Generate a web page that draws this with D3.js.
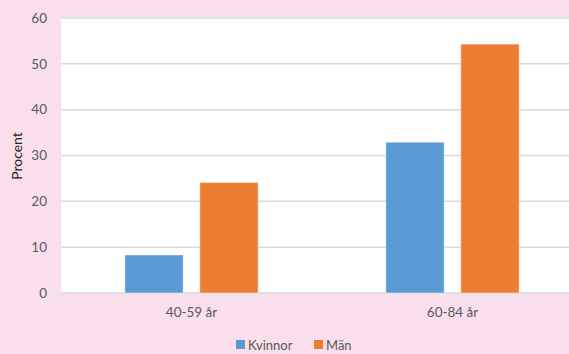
<!DOCTYPE html>
<html>
<head>
<meta charset="utf-8">
<script src="https://cdn.jsdelivr.net/npm/d3@7"></script>
<style>
  html, body { margin: 0; padding: 0; background: #f9dfec; }
  svg { display: block; }
  text { font-family: Lato, "Open Sans", sans-serif; }
</style>
</head>
<body>
<svg id="chart" width="569" height="354"></svg>
<script>
// Andel (procent) per åldersgrupp och kön
const categories = ["40-59 år", "60-84 år"];
const seriesNames = ["Kvinnor", "Män"];
const kvinnor = [8.3, 32.9];
const man = [24.1, 54.3];
const yTicks = [0, 10, 20, 30, 40, 50, 60];
const colors = ["#5b9bd5", "#ed7d31"];

const seriesValues = [kvinnor, man];

const svg = d3.select("#chart");
const plot = { left: 61, right: 583, top: 18, bottom: 293 };

// White plot area (extends past the right edge of the canvas)
svg.append("rect")
  .attr("x", plot.left).attr("y", plot.top - 1)
  .attr("width", plot.right - plot.left)
  .attr("height", plot.bottom - plot.top + 1)
  .attr("fill", "#ffffff");

const y = d3.scaleLinear().domain([0, 60]).range([plot.bottom, plot.top]);
const x0 = d3.scaleBand().domain(categories).range([plot.left, plot.right]).padding(0);
const groupW = 133.3;
const x1 = d3.scaleBand().domain(seriesNames).range([0, groupW]).paddingInner(0.222).paddingOuter(0);
const groupOffset = (x0.bandwidth() - groupW) / 2;

// Gridlines
svg.append("g")
  .selectAll("line")
  .data(yTicks)
  .join("line")
  .attr("x1", plot.left).attr("x2", plot.right)
  .attr("y1", d => y(d)).attr("y2", d => y(d))
  .attr("stroke", "#d9d9d9")
  .attr("stroke-width", 1.5);

// Y axis labels
const yAxis = d3.axisLeft(y).tickValues(yTicks).tickSize(0).tickPadding(14);
const yg = svg.append("g").attr("transform", `translate(${plot.left},0)`).call(yAxis);
yg.select(".domain").remove();
yg.selectAll("text")
  .attr("fill", "#595959")
  .style("font-size", "13.5px")
  .style("font-family", "Lato, sans-serif");

// Bars
const rows = categories.map((c, i) => ({ cat: c, vals: seriesNames.map((s, j) => ({ s, v: seriesValues[j][i], j })) }));
const groups = svg.append("g").selectAll("g")
  .data(rows).join("g")
  .attr("transform", d => `translate(${x0(d.cat) + groupOffset},0)`);
groups.selectAll("rect")
  .data(d => d.vals).join("rect")
  .attr("x", d => x1(d.s))
  .attr("width", x1.bandwidth())
  .attr("y", d => y(d.v))
  .attr("height", d => y(0) - y(d.v))
  .attr("fill", d => colors[d.j])
  .attr("stroke", "#ffffff")
  .attr("stroke-opacity", 0.45)
  .attr("stroke-width", 1);

// Category axis labels
const xAxis = d3.axisBottom(x0).tickSize(0).tickPadding(14);
const xg = svg.append("g").attr("transform", `translate(0,${plot.bottom})`).call(xAxis);
xg.select(".domain").remove();
xg.selectAll("text")
  .attr("fill", "#595959")
  .style("font-size", "13.5px")
  .style("font-family", "Lato, sans-serif");

// Y axis title
svg.append("text")
  .attr("transform", `translate(22,156) rotate(-90)`)
  .attr("text-anchor", "middle")
  .attr("fill", "#262626")
  .style("font-size", "14px")
  .text("Procent");

// Legend
const legendItems = [
  { name: seriesNames[0], color: colors[0], x: 236 },
  { name: seriesNames[1], color: colors[1], x: 314 }
];
const lg = svg.append("g").selectAll("g").data(legendItems).join("g")
  .attr("transform", d => `translate(${d.x},340)`);
lg.append("rect").attr("width", 9).attr("height", 9).attr("fill", d => d.color);
lg.append("text")
  .attr("x", 12).attr("y", 9.5)
  .attr("fill", "#595959")
  .style("font-size", "13px")
  .text(d => d.name);
</script>
</body>
</html>
